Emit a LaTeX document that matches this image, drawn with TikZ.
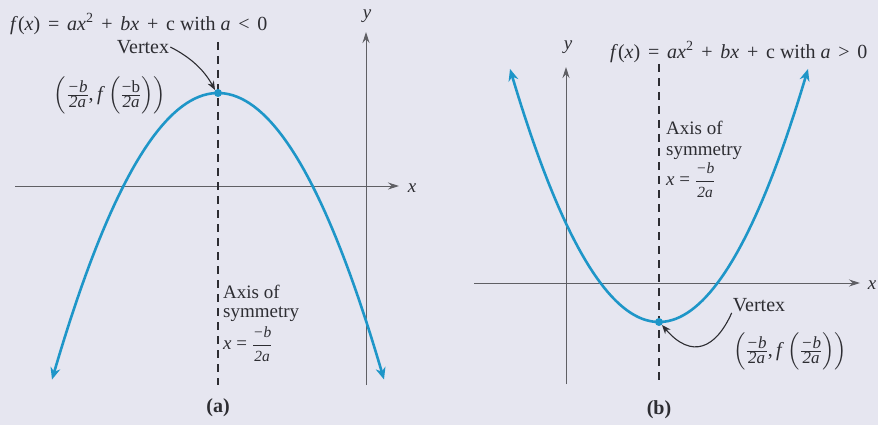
\documentclass[tikz,border=0pt]{standalone}
\usepackage{amsmath}
\usepackage{fontspec}
\setmainfont{Liberation Serif}
\usetikzlibrary{arrows.meta}
\definecolor{bg}{RGB}{230,230,240}
\definecolor{curveblue}{RGB}{30,150,200}
\definecolor{ink}{RGB}{45,45,50}
\definecolor{axisgray}{RGB}{95,95,100}
\newcommand{\fs}[1]{\text{\fontsize{17}{17}\selectfont #1}}
\newcommand{\tfr}[2]{\tfrac{\fs{#1}}{\fs{#2}}}
\newcommand{\fsb}[1]{\text{\fontsize{15.5}{16}\selectfont #1}}
\newcommand{\afr}[2]{\dfrac{\fsb{#1}}{\fsb{#2}}}
\newcommand{\vtx}[1]{$\left(\tfr{\textit{−b}}{\textit{2a}}\text{,\,}\text{\textit{f}}\left(\tfr{#1}{\textit{2a}}\right)\right)$}
\newcommand{\wop}[1]{\hspace{0.39em}#1\hspace{0.39em}}
\tikzset{
  curve/.style={curveblue, line width=2.6pt, {Stealth[length=12pt,width=10pt]}-{Stealth[length=12pt,width=10pt]}},
  axisline/.style={axisgray, line width=1pt, -{Stealth[length=11pt,width=7pt]}},
  symline/.style={ink, line width=1.4pt, dash pattern=on 8pt off 6pt},
  lbl/.style={ink, font=\fontsize{20}{22}\selectfont, inner sep=1pt},
  axlbl/.style={ink, font=\fontsize{19}{21}\selectfont\itshape, inner sep=1pt},
  small/.style={ink, font=\fontsize{19}{20}\selectfont, inner sep=1pt, anchor=west},
  pointer/.style={ink, line width=1.1pt, -{Stealth[length=9pt,width=7pt]}},
  vdot/.style={circle, fill=curveblue, inner sep=0pt, minimum size=8pt}
}
\begin{document}
\begin{tikzpicture}[x=1pt,y=-1pt]
\fill[bg] (0,0) rectangle (878,425);
\useasboundingbox (0,0) rectangle (878,425);
% ---------- panel (a) ----------
\coordinate (ax0) at (15,186);
\coordinate (ax1) at (399,186);
\coordinate (ay0) at (366,385);
\coordinate (ay1) at (366,32);
\draw[axisline] (ax0) -- (ax1);
\draw[axisline] (ay0) -- (ay1);
\node[axlbl] (xa) at (412,188) {x};
\node[axlbl] (ya) at (367,16) {y};
\coordinate (da0) at (218,42);
\coordinate (da1) at (218,385);
\draw[symline] (da0) -- (da1);
\draw[curve] plot[domain=-1.66:1.66, samples=80] ({218+100*\x},{93+104*\x*\x});
\node[vdot] (va) at (218,93) {};
\node[lbl, anchor=west] (ta) at (9,24) {\textit{f}(\textit{x})\wop{=}\textit{ax}\textsuperscript{2}\wop{+}\textit{bx}\wop{+}c with \textit{a}\wop{<}0};
\node[lbl] (vlA) at (143,47) {Vertex};
\node[lbl] (cA) at (110,95) {\vtx{−b}};
\draw[pointer] (vlA.east) .. controls (188,56) and (203,68) .. (va.north west);
\node[small] (sA1) at (222,292) {Axis of};
\node[small] (sA2) at (222,314) {symmetry};
\node[small] (sA3) at (222,344) {\textit{x} = $\afr{\textit{−b}}{\textit{2a}}$};
\node[lbl, font=\fontsize{20}{22}\selectfont\bfseries] (capA) at (218,408) {(a)};
% ---------- panel (b) ----------
\coordinate (bx0) at (474,283);
\coordinate (bx1) at (860,283);
\coordinate (by0) at (566,384);
\coordinate (by1) at (566,67);
\draw[axisline] (bx0) -- (bx1);
\draw[axisline] (by0) -- (by1);
\node[axlbl] (xb) at (872,285) {x};
\node[axlbl] (yb) at (568,47) {y};
\coordinate (db0) at (659,64);
\coordinate (db1) at (659,385);
\draw[symline] (db0) -- (db1);
\draw[curve] plot[domain=-1.49:1.49, samples=80] ({659+100*\x},{322-114*\x*\x});
\node[vdot] (vb) at (659,322) {};
\node[lbl, anchor=west] (tb) at (609,52) {\textit{f}(\textit{x})\wop{=}\textit{ax}\textsuperscript{2}\wop{+}\textit{bx}\wop{+}c with \textit{a}\wop{>}0};
\node[small] (sB1) at (665,128) {Axis of};
\node[small] (sB2) at (665,152) {symmetry};
\node[small] (sB3) at (665,180) {\textit{x} = $\afr{\textit{−b}}{\textit{2a}}$};
\node[lbl] (vlB) at (759,305) {Vertex};
\node[lbl] (cB) at (790,351) {\vtx{\textit{−b}}};
\draw[pointer] (vlB.south west) .. controls (716,348) and (692,360) .. (vb.south east);
\node[lbl, font=\fontsize{20}{22}\selectfont\bfseries] (capB) at (659,410) {(b)};
\end{tikzpicture}
\end{document}
